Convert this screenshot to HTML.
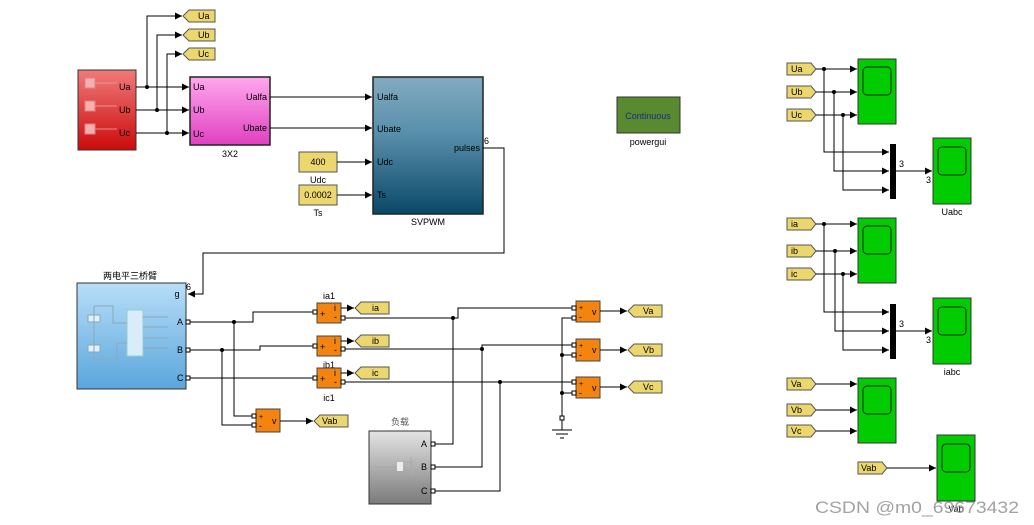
<!DOCTYPE html>
<html><head><meta charset="utf-8"><style>
html,body{margin:0;padding:0;background:#fff;}
svg{display:block;font-family:"Liberation Sans","Noto Sans CJK SC",sans-serif;}
</style></head><body>
<svg width="1034" height="525" viewBox="0 0 1034 525" xmlns="http://www.w3.org/2000/svg">
<defs>
<linearGradient id="gr" x1="0" y1="0" x2="0" y2="1"><stop offset="0" stop-color="#f07a7a"/><stop offset="1" stop-color="#cc0a0a"/></linearGradient>
<linearGradient id="gp" x1="0" y1="0" x2="0" y2="1"><stop offset="0" stop-color="#ffa8ee"/><stop offset="1" stop-color="#e040c0"/></linearGradient>
<linearGradient id="gs" x1="0" y1="0" x2="0" y2="1"><stop offset="0" stop-color="#82aac0"/><stop offset="0.4" stop-color="#5a90ac"/><stop offset="1" stop-color="#0a4868"/></linearGradient>
<linearGradient id="gb" x1="0" y1="0" x2="0" y2="1"><stop offset="0" stop-color="#b8def8"/><stop offset="1" stop-color="#5aa6dc"/></linearGradient>
<linearGradient id="gg" x1="0" y1="0" x2="0" y2="1"><stop offset="0" stop-color="#e4e4e4"/><stop offset="1" stop-color="#7a7a7a"/></linearGradient>
<marker id="ar" markerWidth="8" markerHeight="8" refX="7" refY="4" orient="auto" markerUnits="userSpaceOnUse"><path d="M0,0.5 L7,4 L0,7.5z" fill="#000"/></marker>
</defs>
<g font-size="9" fill="#000">
<rect x="78" y="70" width="58" height="80" fill="url(#gr)" stroke="#333"/>
<rect x="85" y="78" width="10" height="10" fill="#f4b0b0" stroke="#e08080"/>
<rect x="85" y="101" width="10" height="10" fill="#f4b0b0" stroke="#e08080"/>
<rect x="85" y="124" width="10" height="10" fill="#f4b0b0" stroke="#e08080"/>
<path d="M95,83H117M95,106H117M95,129H117" stroke="#e89090" fill="none"/>
<text x="119" y="90">Ua</text><text x="119" y="113">Ub</text><text x="119" y="136">Uc</text>
<rect x="190" y="77" width="80" height="68" fill="url(#gp)" stroke="#222" stroke-width="1.5"/>
<text x="193" y="90">Ua</text><text x="193" y="113">Ub</text><text x="193" y="137">Uc</text>
<text x="267" y="100" text-anchor="end">Ualfa</text><text x="267" y="131" text-anchor="end">Ubate</text>
<text x="230" y="157" text-anchor="middle">3X2</text>
<rect x="373" y="77" width="110" height="137" fill="url(#gs)" stroke="#222" stroke-width="1.5"/>
<text x="377" y="100">Ualfa</text><text x="377" y="132">Ubate</text><text x="377" y="165">Udc</text><text x="377" y="198">Ts</text>
<text x="480" y="151" text-anchor="end">pulses</text><text x="484" y="144">6</text>
<text x="428" y="225" text-anchor="middle">SVPWM</text>
<rect x="299" y="152" width="38" height="20" fill="#ecd66e" stroke="#555"/><text x="318" y="165" text-anchor="middle">400</text><text x="318" y="183" text-anchor="middle">Udc</text>
<rect x="299" y="185" width="38" height="20" fill="#ecd66e" stroke="#555"/><text x="318" y="198" text-anchor="middle">0.0002</text><text x="318" y="216" text-anchor="middle">Ts</text>
<rect x="617" y="97" width="63" height="36" fill="#5a8a30" stroke="#333"/>
<text x="648" y="119" text-anchor="middle" fill="#1a2a8a">Continuous</text>
<text x="648" y="145" text-anchor="middle">powergui</text>
<g stroke="#000" fill="none" stroke-width="1">
<path d="M136,87H189" marker-end="url(#ar)"/><path d="M136,110H189" marker-end="url(#ar)"/><path d="M136,133H189" marker-end="url(#ar)"/>
<path d="M147,87V16H182" marker-end="url(#ar)"/><path d="M157,110V35H182" marker-end="url(#ar)"/><path d="M167,133V54H182" marker-end="url(#ar)"/>
<path d="M270,97H372" marker-end="url(#ar)"/><path d="M270,128H372" marker-end="url(#ar)"/>
<path d="M337,162H372" marker-end="url(#ar)"/><path d="M337,195H372" marker-end="url(#ar)"/>
<path d="M483,148H504V253H203V294H188" marker-end="url(#ar)"/>
</g>
<circle cx="147" cy="87" r="2"/><circle cx="157" cy="110" r="2"/><circle cx="167" cy="133" r="2"/>
<g font-size="9">
<path d="M183,16l6,-6h26v12h-26z" fill="#ecd66e" stroke="#555"/><text x="198" y="19">Ua</text>
<path d="M183,35l6,-6h26v12h-26z" fill="#ecd66e" stroke="#555"/><text x="198" y="38">Ub</text>
<path d="M183,54l6,-6h26v12h-26z" fill="#ecd66e" stroke="#555"/><text x="198" y="57">Uc</text>
</g>
<text x="130" y="279" text-anchor="middle" font-size="9">两电平三桥臂</text>
<rect x="77" y="283" width="109" height="106" fill="url(#gb)" stroke="#333"/>
<rect x="127" y="310" width="16" height="46" fill="#d8ecfa" stroke="#9cc"/>
<rect x="88" y="315" width="12" height="7" fill="#e0f0ff" stroke="#8aa"/><rect x="88" y="345" width="12" height="7" fill="#e0f0ff" stroke="#8aa"/>
<path d="M94,306V360M94,306H113V323H127M94,360H117V343H127M143,317H168M143,327H168M143,338H168M143,348H168" stroke="#8ab" fill="none"/>
<text x="177" y="297" text-anchor="middle">g</text><text x="186" y="290">6</text>
<text x="177" y="325">A</text><text x="177" y="353">B</text><text x="177" y="381">C</text>
<text x="400" y="425" text-anchor="middle" font-size="9" fill="#555">负载</text>
<rect x="369" y="431" width="62" height="73" fill="url(#gg)" stroke="#333"/>
<rect x="397" y="462" width="6" height="9" fill="#eee"/>
<path d="M375,467H397M403,462H414M403,471H414M411,457V476" stroke="#aaa" fill="none"/>
<text x="421" y="447">A</text><text x="421" y="470">B</text><text x="421" y="494">C</text>
<g font-size="9">
<rect x="317" y="303" width="24" height="20" fill="#f48410" stroke="#444"/><text x="320" y="317">+</text><text x="334" y="311">i</text><text x="334" y="320">-</text><text x="329" y="299" text-anchor="middle">ia1</text>
<rect x="317" y="336" width="24" height="20" fill="#f48410" stroke="#444"/><text x="320" y="350">+</text><text x="334" y="344">i</text><text x="334" y="353">-</text><text x="329" y="368" text-anchor="middle">ib1</text>
<rect x="317" y="368" width="24" height="20" fill="#f48410" stroke="#444"/><text x="320" y="382">+</text><text x="334" y="376">i</text><text x="334" y="385">-</text><text x="329" y="401" text-anchor="middle">ic1</text>
<rect x="256" y="409" width="24" height="23" fill="#f48410" stroke="#444"/><text x="259" y="419" font-size="7">+</text><text x="259" y="429">-</text><text x="272" y="424">v</text>
<rect x="576" y="301" width="24" height="21" fill="#f48410" stroke="#444"/><text x="579" y="310" font-size="7">+</text><text x="579" y="320">-</text><text x="592" y="315">v</text>
<rect x="576" y="339" width="24" height="22" fill="#f48410" stroke="#444"/><text x="579" y="348" font-size="7">+</text><text x="579" y="358">-</text><text x="592" y="353">v</text>
<rect x="576" y="377" width="24" height="21" fill="#f48410" stroke="#444"/><text x="579" y="386" font-size="7">+</text><text x="579" y="396">-</text><text x="592" y="391">v</text>
</g>
<g stroke="#000" fill="none">
<path d="M186,322H253V312H317"/><path d="M186,350H260V346H317"/><path d="M186,378H317"/>
<path d="M234,322V416H256"/><path d="M222,350V425H256"/>
<path d="M341,318H458V308H576"/><path d="M341,349H482V345H576"/><path d="M341,382H576"/>
<path d="M431,444H453V318"/><path d="M431,467H482V349"/><path d="M431,491H500V382"/>
<path d="M576,318H562V418"/><path d="M562,355H576"/><path d="M562,393H576"/>
<path d="M562,420V430M552,430H572M556,434H568M560,438H564"/>
<path d="M341,308H354" marker-end="url(#ar)"/><path d="M341,341H354" marker-end="url(#ar)"/><path d="M341,373H354" marker-end="url(#ar)"/>
<path d="M280,421H313" marker-end="url(#ar)"/>
<path d="M600,311H627" marker-end="url(#ar)"/><path d="M600,350H627" marker-end="url(#ar)"/><path d="M600,387H627" marker-end="url(#ar)"/>
</g>
<g fill="#fff" stroke="#000" stroke-width="1">
<rect x="186" y="320" width="4" height="4"/><rect x="186" y="348" width="4" height="4"/><rect x="186" y="376" width="4" height="4"/>
<rect x="313" y="310" width="4" height="4"/><rect x="313" y="344" width="4" height="4"/><rect x="313" y="376" width="4" height="4"/>
<rect x="341" y="316" width="4" height="4"/><rect x="341" y="347" width="4" height="4"/><rect x="341" y="380" width="4" height="4"/>
<rect x="252" y="414" width="4" height="4"/><rect x="252" y="423" width="4" height="4"/>
<rect x="572" y="306" width="4" height="4"/><rect x="572" y="316" width="4" height="4"/>
<rect x="572" y="343" width="4" height="4"/><rect x="572" y="353" width="4" height="4"/>
<rect x="572" y="380" width="4" height="4"/><rect x="572" y="391" width="4" height="4"/>
<rect x="431" y="442" width="4" height="4"/><rect x="431" y="465" width="4" height="4"/><rect x="431" y="489" width="4" height="4"/>
<rect x="560" y="416" width="4" height="4"/>
</g>
<circle cx="234" cy="322" r="2"/><circle cx="222" cy="350" r="2"/>
<circle cx="453" cy="318" r="2"/><circle cx="482" cy="349" r="2"/><circle cx="500" cy="382" r="2"/>
<circle cx="562" cy="355" r="2"/><circle cx="562" cy="393" r="2"/>
<g font-size="9">
<path d="M355,308l6,-6h28v12h-28z" fill="#ecd66e" stroke="#555"/><text x="372" y="311">ia</text>
<path d="M355,341l6,-6h28v12h-28z" fill="#ecd66e" stroke="#555"/><text x="372" y="344">ib</text>
<path d="M355,373l6,-6h28v12h-28z" fill="#ecd66e" stroke="#555"/><text x="372" y="376">ic</text>
<path d="M314,421l6,-6h28v12h-28z" fill="#ecd66e" stroke="#555"/><text x="322" y="424">Vab</text>
<path d="M628,311l6,-6h28v12h-28z" fill="#ecd66e" stroke="#555"/><text x="643" y="314">Va</text>
<path d="M628,350l6,-6h28v12h-28z" fill="#ecd66e" stroke="#555"/><text x="643" y="353">Vb</text>
<path d="M628,387l6,-6h28v12h-28z" fill="#ecd66e" stroke="#555"/><text x="643" y="390">Vc</text>
</g>
<g font-size="9">
<path d="M787,63h24l5,6l-5,6h-24z" fill="#ecd66e" stroke="#555"/><text x="791" y="72">Ua</text>
<path d="M787,86h24l5,6l-5,6h-24z" fill="#ecd66e" stroke="#555"/><text x="791" y="95">Ub</text>
<path d="M787,109h24l5,6l-5,6h-24z" fill="#ecd66e" stroke="#555"/><text x="791" y="118">Uc</text>
<path d="M787,218h24l5,6l-5,6h-24z" fill="#ecd66e" stroke="#555"/><text x="791" y="227">ia</text>
<path d="M787,245h24l5,6l-5,6h-24z" fill="#ecd66e" stroke="#555"/><text x="791" y="254">ib</text>
<path d="M787,268h24l5,6l-5,6h-24z" fill="#ecd66e" stroke="#555"/><text x="791" y="277">ic</text>
<path d="M787,378h24l5,6l-5,6h-24z" fill="#ecd66e" stroke="#555"/><text x="791" y="387">Va</text>
<path d="M787,404h24l5,6l-5,6h-24z" fill="#ecd66e" stroke="#555"/><text x="791" y="413">Vb</text>
<path d="M787,425h24l5,6l-5,6h-24z" fill="#ecd66e" stroke="#555"/><text x="791" y="434">Vc</text>
<path d="M858,462h24l5,6l-5,6h-24z" fill="#ecd66e" stroke="#555"/><text x="861" y="471">Vab</text>
</g>
<g fill="#00cc00" stroke="#333">
<rect x="858" y="59" width="38" height="65"/><rect x="933" y="138" width="38" height="66"/>
<rect x="858" y="218" width="38" height="65"/><rect x="933" y="298" width="38" height="66"/>
<rect x="858" y="378" width="38" height="65"/><rect x="937" y="435" width="38" height="66"/>
</g>
<g fill="none" stroke="#222">
<rect x="863" y="67" width="28" height="28" rx="4"/><rect x="938" y="147" width="28" height="28" rx="4"/>
<rect x="863" y="226" width="28" height="28" rx="4"/><rect x="938" y="307" width="28" height="28" rx="4"/>
<rect x="863" y="386" width="28" height="28" rx="4"/><rect x="942" y="444" width="28" height="28" rx="4"/>
</g>
<rect x="890" y="144" width="6" height="55" fill="#000"/><rect x="890" y="304" width="6" height="55" fill="#000"/>
<g stroke="#000" fill="none">
<path d="M816,69H857" marker-end="url(#ar)"/><path d="M816,92H857" marker-end="url(#ar)"/><path d="M816,115H857" marker-end="url(#ar)"/>
<path d="M824,69V152H889" marker-end="url(#ar)"/><path d="M834,92V171H889" marker-end="url(#ar)"/><path d="M843,115V190H889" marker-end="url(#ar)"/>
<path d="M896,171H932" marker-end="url(#ar)"/>
<path d="M816,224H857" marker-end="url(#ar)"/><path d="M816,251H857" marker-end="url(#ar)"/><path d="M816,274H857" marker-end="url(#ar)"/>
<path d="M824,224V312H889" marker-end="url(#ar)"/><path d="M835,251V331H889" marker-end="url(#ar)"/><path d="M843,274V350H889" marker-end="url(#ar)"/>
<path d="M896,331H932" marker-end="url(#ar)"/>
<path d="M816,384H857" marker-end="url(#ar)"/><path d="M816,410H857" marker-end="url(#ar)"/><path d="M816,431H857" marker-end="url(#ar)"/>
<path d="M887,468H936" marker-end="url(#ar)"/>
</g>
<circle cx="824" cy="69" r="2"/><circle cx="834" cy="92" r="2"/><circle cx="843" cy="115" r="2"/>
<circle cx="824" cy="224" r="2"/><circle cx="835" cy="251" r="2"/><circle cx="843" cy="274" r="2"/>
<g font-size="9">
<text x="899" y="167">3</text><text x="926" y="183">3</text><text x="952" y="215" text-anchor="middle">Uabc</text>
<text x="899" y="327">3</text><text x="926" y="343">3</text><text x="952" y="375" text-anchor="middle">iabc</text>
<text x="956" y="512" text-anchor="middle">Vab</text>
</g>
<text x="815" y="513" font-size="17" fill="#999" opacity="0.9" textLength="204" lengthAdjust="spacingAndGlyphs">CSDN @m0_69673432</text>
</g>
</svg>
</body></html>
